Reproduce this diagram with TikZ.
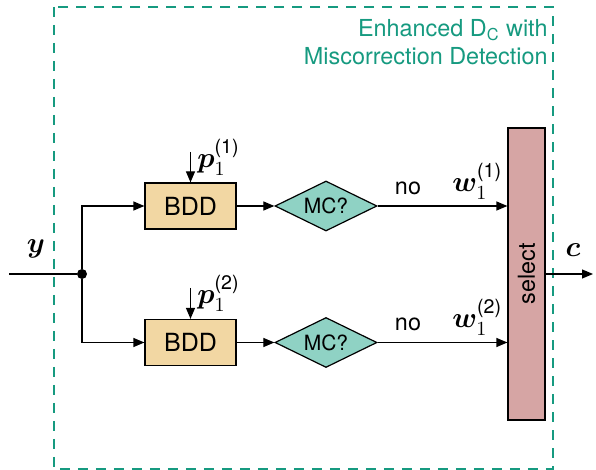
\documentclass[tikz,border=0pt]{standalone}
\usepackage{amsmath}
\usepackage{bm}
\usepackage{fontspec}
\setsansfont{TeX Gyre Heros}
\usetikzlibrary{shapes.geometric,arrows.meta}

\definecolor{frameteal}{RGB}{22,154,128}
\definecolor{bddfill}{RGB}{242,215,163}
\definecolor{mcfill}{RGB}{143,210,196}
\definecolor{selfill}{RGB}{214,165,164}

\tikzset{
  wire/.style={line width=0.6pt},
  arr/.style={wire,-{Triangle[length=5.5pt,width=4.5pt]}},
  txt/.style={font=\sffamily\fontsize{11.7}{14}\selectfont, inner sep=0pt},
  mathlbl/.style={font=\fontsize{14}{16}\selectfont, inner sep=0pt},
  bddbox/.style={draw, line width=0.6pt, fill=bddfill, minimum width=45.5pt,
    minimum height=23pt, inner sep=0pt, font=\sffamily\fontsize{12.5}{14}\selectfont},
  mcbox/.style={diamond, draw, line width=0.6pt, fill=mcfill, aspect=2,
    minimum width=51pt, minimum height=25pt, inner sep=0pt,
    font=\sffamily\fontsize{10.5}{12}\selectfont},
  selbox/.style={draw, line width=0.6pt, fill=selfill, minimum width=18.5pt,
    minimum height=146pt, inner sep=0pt},
  dot/.style={circle, fill, inner sep=0pt, minimum size=5pt},
}

\begin{document}
\begin{tikzpicture}[x=0.5pt, y=-0.5pt]
  \useasboundingbox (0,0) rectangle (596,470);

  % dashed enclosure of the enhanced decoder
  \draw[frameteal, line width=0.55pt, dash pattern=on 5pt off 4pt]
    (54,7) rectangle (553,469);
  \node[txt, text=frameteal, anchor=base east] (title1) at (548,37)
    {Enhanced D$_{\textsf{C}}$ with};
  \node[txt, text=frameteal, anchor=base east] (title2) at (548,65)
    {Miscorrection Detection};

  % blocks
  \coordinate (in) at (9,274);
  \node[dot] (j) at (82,274) {};
  \node[bddbox] (bdd1) at (190.5,206) {BDD};
  \node[bddbox] (bdd2) at (190.5,342.5) {BDD};
  \node[mcbox] (mc1) at (326,206) {MC?};
  \node[mcbox] (mc2) at (326,342.5) {MC?};
  \node[selbox] (sel) at (526.5,274) {};
  \node[txt, rotate=90] (seltxt) at (sel.center) {select};
  \coordinate (out) at (593,274);
  \coordinate (p1) at (190.5,152);
  \coordinate (p2) at (190.5,288);

  % connectors
  \draw[wire] (in) -- (j);
  \draw[arr] (j) |- (bdd1.west);
  \draw[arr] (j) |- (bdd2.west);
  \draw[arr] (bdd1) -- (mc1);
  \draw[arr] (bdd2) -- (mc2);
  \draw[arr] (mc1) -- (sel.west |- mc1);
  \draw[arr] (mc2) -- (sel.west |- mc2);
  \draw[arr] (sel) -- (out);
  \draw[arr] (p1) -- (bdd1.north);
  \draw[arr] (p2) -- (bdd2.north);

  % labels
  \node[mathlbl, anchor=base] (ylbl) at (36,253) {$\bm{y}$};
  \node[mathlbl, anchor=base] (clbl) at (573,257) {$\bm{c}$};
  \node[mathlbl, anchor=base west] (p1lbl) at (197,168) {$\bm{p}_1^{\textsf{(1)}}$};
  \node[mathlbl, anchor=base west] (p2lbl) at (197,304) {$\bm{p}_1^{\textsf{(2)}}$};
  \node[txt, anchor=base] (no1) at (408,195) {no};
  \node[txt, anchor=base] (no2) at (408,331) {no};
  \node[mathlbl, anchor=base west] (w1lbl) at (452,192) {$\bm{w}_1^{\textsf{(1)}}$};
  \node[mathlbl, anchor=base west] (w2lbl) at (452,328) {$\bm{w}_1^{\textsf{(2)}}$};
\end{tikzpicture}
\end{document}
